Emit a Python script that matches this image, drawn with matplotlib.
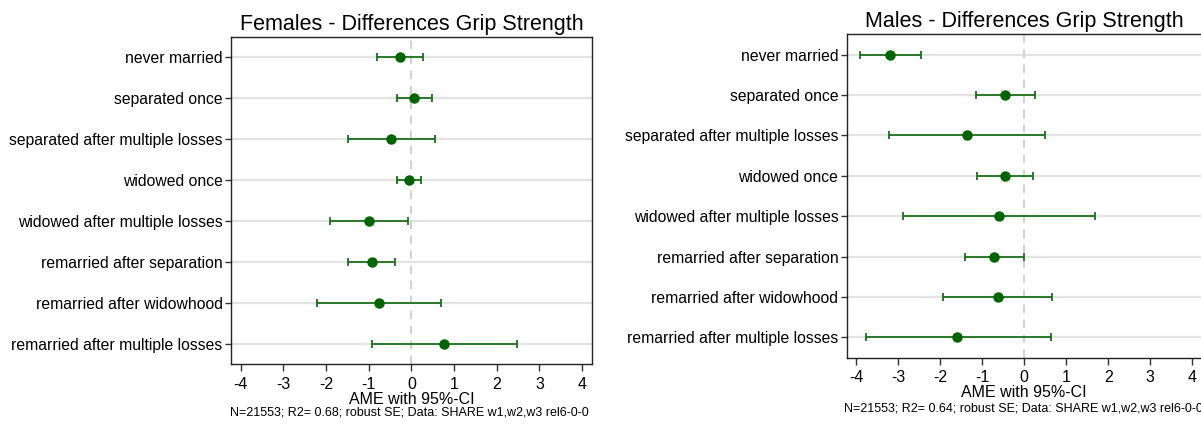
import numpy as np
import matplotlib
matplotlib.use('Agg')
import matplotlib.pyplot as plt

plt.rcParams['font.family'] = ['Liberation Sans', 'DejaVu Sans']

## Data ##

categories = [
    'never married',
    'separated once',
    'separated after multiple losses',
    'widowed once',
    'widowed after multiple losses',
    'remarried after separation',
    'remarried after widowhood',
    'remarried after multiple losses',
]

fem_ame = [-0.26, 0.06, -0.47, -0.05, -1.00, -0.93, -0.77, 0.77]
fem_lo = [-0.80, -0.35, -1.48, -0.35, -1.91, -1.48, -2.21, -0.93]
fem_hi = [0.27, 0.48, 0.54, 0.23, -0.08, -0.375, 0.70, 2.48]

male_ame = [-3.19, -0.46, -1.37, -0.46, -0.60, -0.71, -0.63, -1.59]
male_lo = [-3.91, -1.15, -3.22, -1.13, -2.89, -1.40, -1.94, -3.77]
male_hi = [-2.45, 0.26, 0.50, 0.22, 1.68, -0.01, 0.67, 0.63]

xticks = [-4, -3, -2, -1, 0, 1, 2, 3, 4]

GREEN = '#006400'


def coef_panel(ax, ame, lo, hi, title):

    ame = np.asarray(ame)
    err = np.vstack([ame - np.asarray(lo), np.asarray(hi) - ame])
    y = np.arange(len(categories))

    for yy in y:
        ax.axhline(yy, color = '#e3e3e3', linewidth = 1.6, zorder = 0)
    ax.axvline(0, color = '#c8c8c8', linewidth = 1.2, linestyle = (0, (5, 4)), zorder = 1)

    ax.errorbar(ame, y, xerr = err, fmt = 'o', color = GREEN, ecolor = '#1b6f1b',
                markersize = 6.5, elinewidth = 1.3, capsize = 3, capthick = 1.3, zorder = 3)

    ax.set_xlim(-4.23, 4.23)
    ax.set_ylim(len(categories) - 0.5, -0.5)
    ax.set_yticks(y)
    ax.set_yticklabels(categories, fontsize = 11.3)
    ax.set_xticks(xticks)
    ax.set_xticklabels([str(t) for t in xticks], fontsize = 11.5)
    ax.tick_params(axis = 'y', length = 4, width = 1, color = '#333333', pad = 2)
    ax.tick_params(axis = 'x', length = 5, width = 1, color = '#333333', pad = 4)
    ax.set_xlabel('AME with 95%-CI', fontsize = 11.5, labelpad = 0)
    ax.set_title(title, fontsize = 15.5, pad = 5)
    for s in ax.spines.values():
        s.set_color('#222222')
        s.set_linewidth(1.0)


fig = plt.figure(figsize = (12.01, 4.24), dpi = 100)

ax_f = fig.add_axes([0.1923, 0.1415, 0.3006, 0.7712])
coef_panel(ax_f, fem_ame, fem_lo, fem_hi, 'Females - Differences Grip Strength')
fig.text(0.341, 0.028, 'N=21553; R2= 0.68; robust SE; Data: SHARE w1,w2,w3 rel6-0-0',
         ha = 'center', va = 'center', fontsize = 9)

ax_m = fig.add_axes([0.705, 0.1564, 0.2956, 0.7627])
coef_panel(ax_m, male_ame, male_lo, male_hi, 'Males - Differences Grip Strength')
fig.text(0.852, 0.036, 'N=21553; R2= 0.64; robust SE; Data: SHARE w1,w2,w3 rel6-0-0',
         ha = 'center', va = 'center', fontsize = 9)

fig.savefig('out.png', dpi = 100, facecolor = 'white')
